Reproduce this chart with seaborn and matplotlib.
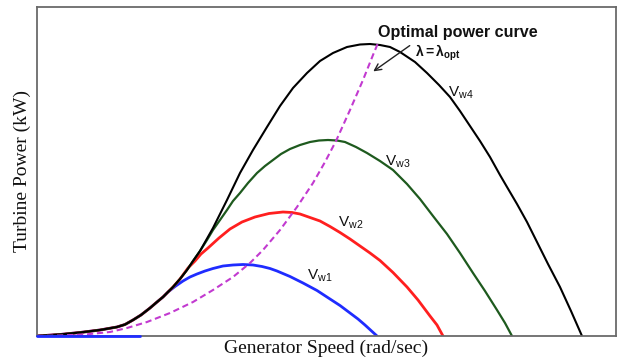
import matplotlib
matplotlib.use("Agg")
import matplotlib.pyplot as plt
import seaborn as sns
import pandas as pd

# ---- data (arbitrary units) ----
# shared low-speed part of all turbine curves
low_speed = [0.0, 4.6, 8.6, 12.6, 16.0, 17.6, 19.2, 20.8, 22.6, 24.0, 25.2]
low_power = [0.0, 0.45, 1.05, 1.8, 2.7, 3.45, 4.8, 6.3, 8.4, 10.2, 11.7]

vw4_speed = [27.2, 28.6, 30.0, 31.2, 32.6, 35.2, 38.0, 40.6, 43.2, 46.0, 48.6, 51.2,
             54.0, 56.6, 59.2, 62.0, 64.6, 66.6, 68.6, 70.6, 72.6, 75.6, 78.0, 80.4,
             82.6, 84.6, 86.6, 88.6, 90.6, 92.6, 94.0, 96.0, 98.0, 100.0, 102.2,
             104.6, 106.8, 109.0]
vw4_power = [14.7, 17.1, 19.8, 22.5, 25.5, 32.4, 40.8, 48.9, 55.8, 62.7, 69.0, 74.4,
             78.9, 82.5, 84.9, 86.7, 87.45, 87.6, 87.3, 86.7, 85.2, 82.2, 78.9, 75.3,
             71.7, 67.5, 63.0, 58.5, 53.7, 48.3, 44.7, 39.6, 34.2, 28.2, 21.6,
             14.7, 7.5, 0.0]

vw3_speed = [27.2, 28.6, 30.0, 31.2, 32.6, 34.0, 35.2, 36.6, 38.0, 39.2, 40.6, 42.2,
             44.0, 45.6, 47.2, 48.8, 50.6, 52.6, 54.6, 56.4, 58.2, 60.0, 61.6, 63.8,
             66.0, 68.6, 71.2, 74.0, 76.6, 79.2, 82.0, 84.6, 87.2, 89.6, 92.0, 93.6,
             95.0]
vw3_power = [14.7, 17.1, 19.8, 22.5, 25.5, 28.8, 31.8, 34.8, 37.8, 40.5, 42.9, 45.9,
             48.9, 51.0, 52.8, 54.6, 56.1, 57.3, 58.2, 58.65, 58.8, 58.65, 58.2, 56.7,
             54.9, 52.5, 49.8, 45.6, 41.1, 36.0, 30.6, 24.9, 18.9, 13.5, 7.8, 3.9,
             0.0]

vw2_speed = [27.2, 28.6, 30.2, 31.6, 32.8, 34.2, 36.4, 38.6, 41.0, 43.6, 46.4, 49.2,
             51.0, 52.6, 54.6, 56.6, 58.6, 60.6, 62.6, 64.6, 66.6, 68.6, 71.2, 74.0,
             76.2, 78.6, 80.0, 81.2]
vw2_power = [14.7, 17.1, 20.4, 22.5, 24.6, 26.4, 29.4, 32.1, 34.2, 35.7, 36.75, 37.2,
             37.05, 36.6, 35.55, 34.5, 32.85, 31.05, 29.1, 27.0, 24.9, 22.65, 19.05,
             14.7, 10.8, 6.0, 3.3, 0.0]

vw1_speed = [26.2, 27.6, 29.2, 30.6, 32.0, 33.6, 35.2, 37.2, 39.2, 41.2, 43.2, 45.0,
             46.6, 48.0, 50.6, 53.2, 56.0, 58.6, 60.6, 62.6, 64.2, 65.6, 66.8, 68.0]
vw1_power = [13.2, 14.85, 16.5, 17.7, 18.6, 19.5, 20.25, 21.0, 21.3, 21.45, 21.3, 20.85,
             20.25, 19.5, 17.85, 15.9, 13.65, 11.1, 9.15, 6.9, 5.1, 3.3, 1.65, 0.0]
vw1_base_speed = [0.0, 20.6]
vw1_base_power = [0.0, 0.0]

opt_speed = [0.0, 4.6, 9.6, 14.6, 18.0, 22.0, 26.6, 31.2, 35.2, 39.2, 42.6, 45.2, 48.6,
             52.0, 55.2, 57.6, 59.8, 62.6, 65.2, 67.2, 68.2]
opt_power = [0.0, 0.15, 0.45, 1.2, 2.4, 4.2, 6.9, 10.2, 13.8, 17.7, 21.9, 25.8, 31.8,
             38.7, 45.9, 52.2, 58.5, 67.8, 76.8, 84.3, 87.9]

curve_labels = ["w4", "w3", "w2", "w1"]

# ---- style ----
sns.set_theme(style="white")
plt.rcParams["font.family"] = ["Liberation Sans", "DejaVu Sans"]
plt.rcParams["mathtext.fontset"] = "custom"
plt.rcParams["mathtext.rm"] = "Liberation Sans"
plt.rcParams["mathtext.bf"] = "Liberation Sans:bold"
plt.rcParams["mathtext.it"] = "Liberation Sans:italic"

fig = plt.figure(figsize=(6.25, 3.64), dpi=100)
ax = fig.add_axes([37 / 625, 28 / 364, 579 / 625, 329 / 364])


def curve(xs, ys, color, lw, **kw):
    df = pd.DataFrame({"speed": xs, "power": ys})
    sns.lineplot(data=df, x="speed", y="power", ax=ax, color=color, lw=lw,
                 sort=False, estimator=None, **kw)


curve(low_speed + vw1_speed, low_power + vw1_power, "#1f2cff", 2.0)
curve(vw1_base_speed, vw1_base_power, "#1f2cff", 2.0, zorder=3, clip_on=False)
curve(low_speed + vw2_speed, low_power + vw2_power, "#ff1f1f", 2.0)
curve(low_speed + vw3_speed, low_power + vw3_power, "#1e5a1e", 1.6)
curve(low_speed + vw4_speed, low_power + vw4_power, "#000000", 1.5)
curve(opt_speed, opt_power, "#c23ad0", 1.5, linestyle=(0, (3.0, 1.8)))

ax.set_xlim(0, 115.8)
ax.set_ylim(0, 98.7)
ax.set_xticks([])
ax.set_yticks([])
for s in ax.spines.values():
    s.set_color("#6a6a6a")
    s.set_linewidth(1.3)

ax.set_xlabel("Generator Speed (rad/sec)", family="Liberation Serif", fontsize=14,
              labelpad=3, color="#111111")
ax.set_ylabel("Turbine Power (kW)", family="Liberation Serif", fontsize=14,
              labelpad=4, color="#111111")

# curve labels
lab_pos = [(82.2, 71.7), (69.6, 51.0), (60.2, 32.7), (54.0, 16.8)]
for name, (lx, ly) in zip(curve_labels, lab_pos):
    ax.text(lx, ly, r"$\mathrm{V}_{\mathrm{" + name + "}}$", fontsize=11,
            ha="left", va="baseline", color="#111111")

ax.text(68.2, 89.7, "Optimal power curve", fontsize=11.6, fontweight="bold",
        ha="left", va="baseline", color="#111111")
ax.text(75.6, 83.7, r"$\mathbf{\lambda=\lambda_{opt}}$", fontsize=10,
        ha="left", va="baseline", color="#111111")
ax.annotate("", xy=(66.8, 78.9), xytext=(75.0, 87.6),
            arrowprops=dict(arrowstyle="->", color="#222222", lw=1.0,
                            mutation_scale=12))

fig.savefig("out.png", dpi=100)
